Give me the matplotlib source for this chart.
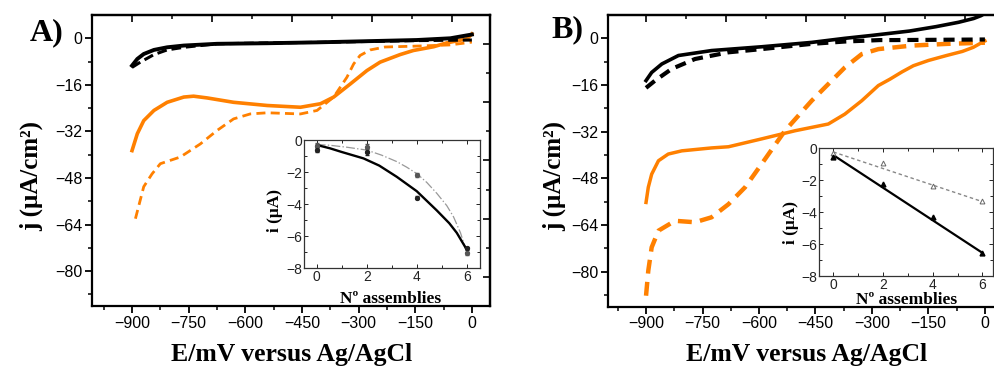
import matplotlib
matplotlib.use("Agg")
import matplotlib.pyplot as plt
import numpy as np

plt.rcParams["font.family"] = ["Liberation Sans", "DejaVu Sans"]
plt.rcParams["lines.scale_dashes"] = False

ORANGE = "#FF8000"
SERIF = ["Liberation Serif", "DejaVu Serif"]

# ---- panel A, main curves (E in mV, j in uA/cm2) ----
a_blk_x = [-900, -886, -869, -842, -807, -763, -675, -542, -410, -278, -146, -57, 0]
a_blk_y = [-9.4, -7.1, -5.4, -4.0, -3.1, -2.5, -1.9, -1.7, -1.4, -1.0, -0.6, 0.0, 1.3]
a_blkd_x = [-900, -878, -842, -807, -763, -675, -542, -410, -278, -146, 0]
a_blkd_y = [-10.0, -8.2, -5.6, -4.0, -3.1, -1.9, -1.6, -1.4, -1.1, -0.8, -0.6]
a_org_x = [-900, -886, -869, -842, -807, -763, -737, -701, -631, -542, -454, -401,
           -366, -322, -278, -243, -190, -155, -101, -67, -13, 0]
a_org_y = [-38.6, -32.8, -28.3, -24.8, -22.0, -20.2, -19.9, -20.5, -22.0, -23.1, -23.7,
           -22.5, -20.2, -15.7, -11.1, -8.2, -5.6, -4.2, -2.9, -1.6, -0.2, 1.5]
a_orgd_x = [-891, -869, -847, -825, -772, -719, -675, -631, -587, -542, -454, -410,
            -366, -331, -313, -296, -269, -230, -150, -60, -10, 0]
a_orgd_y = [-62.0, -51.0, -46.6, -43.1, -40.8, -36.3, -31.7, -27.7, -26.0, -25.6, -26.0,
            -24.8, -20.2, -13.4, -8.8, -5.9, -4.0, -3.0, -2.7, -2.3, -1.5, -1.3]

# ---- panel B, main curves ----
b_blk_x = [-900, -885, -858, -814, -726, -593, -460, -372, -300, -200, -130, -70, -30, -10, 0]
b_blk_y = [-14.5, -11.7, -8.8, -5.9, -4.2, -2.9, -1.4, 0.0, 1.0, 2.5, 4.0, 5.5, 6.8, 7.8, 8.6]
b_blkd_x = [-900, -876, -832, -770, -681, -593, -460, -372, -279, -239, 0]
b_blkd_y = [-17.0, -14.5, -10.5, -7.1, -4.8, -3.7, -1.9, -1.1, -0.6, -0.6, -0.4]
b_org_x = [-900, -894, -885, -867, -841, -805, -726, -681, -593, -504, -416, -372, -327,
           -283, -252, -220, -190, -150, -102, -60, -31, -5, 0]
b_org_y = [-56.3, -51.1, -46.6, -42.0, -39.7, -38.6, -37.6, -37.2, -34.5, -31.7, -29.4,
           -26.0, -21.4, -16.2, -14.0, -11.5, -9.4, -7.6, -5.9, -4.5, -3.1, -1.2, -0.9]
b_orgd_x = [-900, -894, -885, -867, -823, -770, -726, -681, -637, -593, -531, -460, -416,
            -372, -327, -283, -195, -100, 0]
b_orgd_y = [-88.3, -79.7, -71.7, -66.0, -62.6, -63.1, -61.4, -56.9, -51.1, -43.1, -31.7,
            -21.4, -15.7, -10.0, -5.4, -3.7, -2.5, -1.9, -1.5]

# ---- insets: current vs number of assemblies ----
n_asm = [0, 2, 4, 6]
a_pts1 = [-0.6, -0.75, -3.6, -6.77]
a_pts2 = [-0.35, -0.46, -2.19, -7.08]
a_err = [0.15, 0.2, 0.1, 0.1]
a_fit1_x = [0, 0.53, 1.0, 1.87, 2.5, 3.2, 4.0, 4.8, 5.3, 5.6, 5.97]
a_fit1_y = [-0.31, -0.52, -0.75, -1.15, -1.6, -2.3, -3.2, -4.4, -5.2, -5.8, -6.77]
a_fit2_x = [0, 0.53, 1.2, 2.0, 2.6, 3.2, 3.6, 4.0, 4.4, 4.8, 5.2, 5.47, 5.75, 5.97]
a_fit2_y = [-0.28, -0.33, -0.45, -0.63, -0.95, -1.35, -1.7, -2.1, -2.65, -3.33, -4.1, -4.8, -5.8, -6.9]
b_pts1 = [-0.54, -2.27, -4.33, -6.54]
b_pts2 = [-0.33, -0.96, -2.38, -3.31]
b_fit1_x = [0, 6]
b_fit1_y = [-0.45, -6.55]
b_fit2_x = [0, 6]
b_fit2_y = [-0.25, -3.35]

yticks = [0, -16, -32, -48, -64, -80]
xticks = [-900, -750, -600, -450, -300, -150, 0]

W, H = 995, 366
fig = plt.figure(figsize=(W / 100, H / 100), dpi=100)


def box(l, t, r, b):
    return [l / W, (H - b) / H, (r - l) / W, (b - t) / H]


def style_main(ax, xlim):
    ax.set_xlim(*xlim)
    ax.set_ylim(-92, 8)
    ax.set_xticks(xticks)
    ax.set_xticks(np.arange(-975, 50, 150), minor=True)
    ax.set_yticks(yticks)
    ax.set_yticks(np.arange(-88, 8, 16), minor=True)
    ax.tick_params(which="major", direction="out", length=5, width=1.3, labelsize=11.5, pad=2)
    ax.tick_params(which="minor", direction="out", length=3, width=1.1)
    for s in ax.spines.values():
        s.set_linewidth(1.6)
    # Origin-style mirrored top axis with its own spacing, ticks only
    top = ax.secondary_xaxis("top")
    top_t = np.arange(-900, 1, 900 / 8.5)
    top.set_xticks(top_t[::2])
    top.set_xticks(top_t[1::2], minor=True)
    top.tick_params(which="major", direction="in", length=5, width=1.2)
    top.tick_params(which="minor", direction="in", length=3, width=1.1)
    top.set_xticklabels([])
    top.set_xticklabels([], minor=True)
    top.spines["top"].set_linewidth(1.6)


def style_inset(ax, xlim):
    ax.set_xlim(*xlim)
    ax.set_ylim(-8, 0)
    ax.set_xticks([0, 2, 4, 6])
    ax.set_xticks([1, 3, 5], minor=True)
    ax.set_yticks([0, -2, -4, -6, -8])
    ax.set_yticks([-1, -3, -5, -7], minor=True)
    ax.tick_params(which="both", direction="in", top=True, right=True, width=0.7,
                   labelsize=10, pad=1.2, colors="#222222")
    ax.tick_params(which="major", length=3)
    ax.tick_params(which="minor", length=2)
    for s in ax.spines.values():
        s.set_linewidth(0.9)
        s.set_color("#333333")


# ---------------- panel A ----------------
axA = fig.add_axes(box(92, 15, 490, 306))
style_main(axA, (-1006, 48))
axA.plot(a_orgd_x, a_orgd_y, color=ORANGE, lw=2.0, dashes=(6.5, 3.8))
axA.plot(a_org_x, a_org_y, color=ORANGE, lw=2.6)
axA.plot(a_blkd_x, a_blkd_y, color="black", lw=2.2, dashes=(7, 3.5))
axA.plot(a_blk_x, a_blk_y, color="black", lw=2.8)
rt = axA.secondary_yaxis("right")
rt.set_yticks(np.arange(-2, -90, -20))
rt.set_yticks(np.arange(-12, -90, -20), minor=True)
rt.tick_params(which="major", direction="in", length=5, width=1.2)
rt.tick_params(which="minor", direction="in", length=3, width=1.1)
rt.set_yticklabels([])
rt.set_yticklabels([], minor=True)
rt.spines["right"].set_linewidth(1.6)

insA = fig.add_axes(box(304, 140, 480, 268))
style_inset(insA, (-0.51, 6.53))
insA.plot(a_fit2_x, a_fit2_y, color="#999999", lw=0.9, ls="-.")
insA.plot(a_fit1_x, a_fit1_y, color="black", lw=1.7)
insA.errorbar(n_asm, a_pts2, yerr=a_err, fmt="o", ms=2.8, color="#555555", elinewidth=0.8, capsize=1.2)
insA.errorbar(n_asm, a_pts1, yerr=a_err, fmt="o", ms=2.8, color="#222222", elinewidth=0.8, capsize=1.2)

# ---------------- panel B ----------------
axB = fig.add_axes(box(608, 15, 1003, 306.5))
style_main(axB, (-1001, 48))
axB.plot(b_orgd_x, b_orgd_y, color=ORANGE, lw=3.2, dashes=(10, 6))
axB.plot(b_org_x, b_org_y, color=ORANGE, lw=2.5)
axB.plot(b_blkd_x, b_blkd_y, color="black", lw=3.0, dashes=(8, 5))
axB.plot(b_blk_x, b_blk_y, color="black", lw=2.6)

insB = fig.add_axes(box(819, 148, 993, 276))
style_inset(insB, (-0.58, 6.43))
insB.plot(b_fit2_x, b_fit2_y, color="#888888", lw=1.0, ls=(0, (2.5, 2)))
insB.plot(b_fit1_x, b_fit1_y, color="black", lw=1.6)
insB.plot(n_asm, b_pts2, "^", ms=3.5, mfc="white", mec="#666666", mew=0.7)
insB.plot(n_asm, b_pts1, "^", ms=3.5, color="black")

# ---------------- labels ----------------
lab = dict(family=SERIF, weight="bold")
fig.text(47 / W, 1 - 33 / H, "A)", fontsize=23, ha="center", va="center", **lab)
fig.text(567 / W, 1 - 30 / H, "B)", fontsize=23, ha="center", va="center", **lab)
for cx in (31, 554):
    fig.text(cx / W, 1 - 176 / H, "j (\u03bcA/cm\u00b2)", fontsize=18, rotation=90,
             ha="center", va="center", **lab)
for cx in (292, 807):
    fig.text(cx / W, 1 - 354 / H, "E/mV versus Ag/AgCl", fontsize=18.5,
             ha="center", va="center", **lab)
for cx, cy, xx, xy in ((275, 210, 391, 299), (791, 223, 907, 300)):
    fig.text(cx / W, 1 - cy / H, "i (\u03bcA)", fontsize=12.5, rotation=90,
             ha="center", va="center", **lab)
    fig.text(xx / W, 1 - xy / H, "N\u00ba assemblies", fontsize=12.5,
             ha="center", va="center", **lab)

fig.savefig("out.png", dpi=100, facecolor="white")
